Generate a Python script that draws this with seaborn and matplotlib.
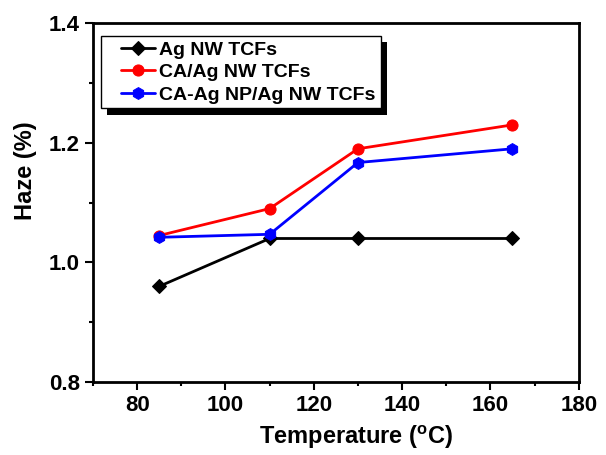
import pandas as pd
import matplotlib.pyplot as plt
import seaborn as sns
from matplotlib.ticker import MultipleLocator
from matplotlib.lines import Line2D
from matplotlib.legend_handler import HandlerLine2D
import matplotlib.patheffects as pe

sns.set_style("ticks")
plt.rcParams['font.family'] = ['Liberation Sans', 'DejaVu Sans']
plt.rcParams['font.weight'] = 'bold'
plt.rcParams['text.color'] = 'black'
plt.rcParams['axes.labelcolor'] = 'black'
plt.rcParams['xtick.color'] = 'black'
plt.rcParams['ytick.color'] = 'black'

temperature = [85, 110, 130, 165]
ag_nw = [0.96, 1.04, 1.04, 1.04]
ca_ag_nw = [1.045, 1.09, 1.19, 1.23]
ca_agnp_ag_nw = [1.042, 1.047, 1.167, 1.19]

series = [
    ("Ag NW TCFs", ag_nw, "black", "D", 7),
    ("CA/Ag NW TCFs", ca_ag_nw, "red", "o", 8),
    ("CA-Ag NP/Ag NW TCFs", ca_agnp_ag_nw, "blue", "h", 8.5),
]

fig = plt.figure(figsize=(6.06, 4.55), dpi=100)
ax = fig.add_axes([0.1535, 0.1604, 0.8015, 0.7886])

for name, vals, col, mk, ms in series:
    df = pd.DataFrame({"T": temperature, "Haze": vals})
    sns.lineplot(data=df, x="T", y="Haze", ax=ax, color=col, marker=mk,
                 markersize=ms, markeredgecolor=col, linewidth=2, label=name)

ax.set_xlim(70, 180)
ax.set_ylim(0.8, 1.4)
ax.xaxis.set_major_locator(MultipleLocator(20))
ax.xaxis.set_minor_locator(MultipleLocator(10))
ax.yaxis.set_major_locator(MultipleLocator(0.2))
ax.yaxis.set_minor_locator(MultipleLocator(0.1))
ax.tick_params(which='major', direction='out', length=6, width=1.5, labelsize=16)
ax.tick_params(which='minor', direction='out', length=3, width=1.5)
ax.tick_params(top=False, right=False)
for s in ax.spines.values():
    s.set_linewidth(2)
    s.set_visible(True)
    s.set_color('black')

ax.set_xlabel("Temperature ($^{\\mathregular{o}}$C)", fontsize=17, fontweight='bold')
ax.set_ylabel("Haze (%)", fontsize=17, fontweight='bold')
ax.xaxis.set_label_coords(0.541, -0.115)
ax.yaxis.set_label_coords(-0.115, 0.588)

leg = ax.legend(loc='upper left', bbox_to_anchor=(0.0165, 0.964), fontsize=14,
                fancybox=False, edgecolor='black', framealpha=1, borderaxespad=0,
                handlelength=2.5, borderpad=0.25, labelspacing=0.25, handletextpad=0.25,
                handler_map={Line2D: HandlerLine2D(xpad=0.8)})
leg.get_frame().set_linewidth(1)
leg.get_frame().set_path_effects([
    pe.SimplePatchShadow(offset=(4.5, -4.5), shadow_rgbFace='black', alpha=1),
    pe.Normal()])

fig.savefig("out.png", dpi=100)
